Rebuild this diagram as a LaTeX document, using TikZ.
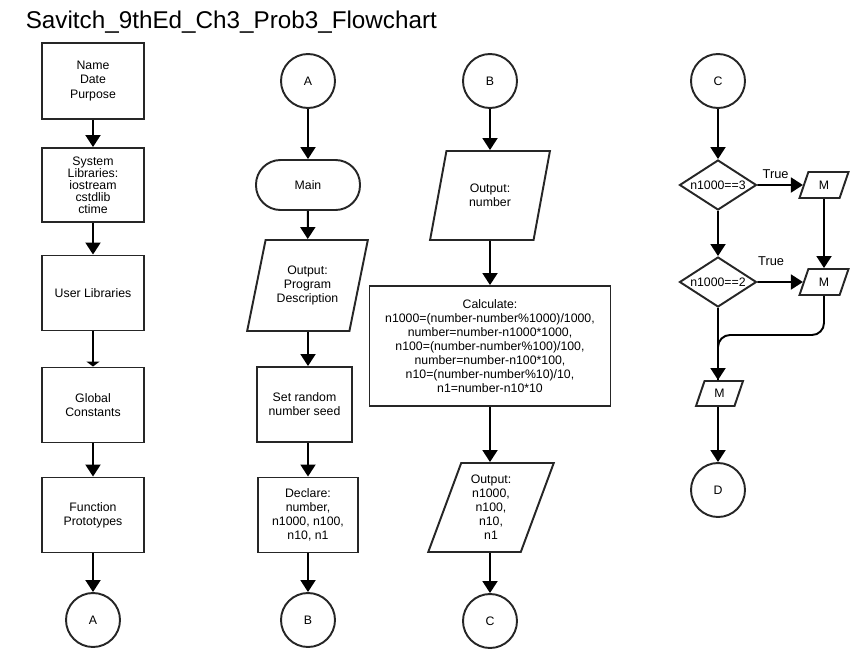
\documentclass[tikz,border=0pt]{standalone}
\usepackage{fontspec}
\setmainfont{Liberation Sans}
\usetikzlibrary{shapes.geometric,arrows.meta}

\begin{document}
\begin{tikzpicture}[x=0.02cm,y=-0.02cm,line width=1.1pt,>={Triangle[length=2.4mm,width=3mm]},
  font=\fontsize{7}{8}\selectfont,
  caja/.style={draw=black!85,minimum width=2.04cm,minimum height=1.5cm,align=center,inner sep=0pt},
  conector/.style={draw=black!85,circle,minimum size=1.08cm,inner sep=0pt},
  terminal/.style={draw=black!85,rounded corners=4.9mm,minimum width=2.08cm,minimum height=1cm},
  entrada/.style={draw=black!85,trapezium,trapezium left angle=71,trapezium right angle=109,
    trapezium stretches=true,align=center,inner sep=0pt},
  decision/.style={draw=black!85,diamond,aspect=1.54,inner sep=0pt,minimum width=1.54cm,minimum height=1cm}]
  \useasboundingbox (0,0) rectangle (862,663);
  \node[anchor=base west,font=\fontsize{13.8}{16}\selectfont] (titulo) at (19,28)
    {Savitch\_9thEd\_Ch3\_Prob3\_Flowchart};
  % columna 1
  \node[caja,minimum height=1.52cm,font=\fontsize{7}{8.4}\selectfont] (nombre) at (93,81) {Name\\Date\\Purpose};
  \node[caja,minimum height=1.48cm,font=\fontsize{7}{6.8}\selectfont] (sislib) at (93,185)
    {System\\Libraries:\\iostream\\cstdlib\\ctime};
  \node[caja] (usrlib) at (93,293) {User Libraries};
  \node[caja] (global) at (93,405) {Global\\Constants};
  \node[caja] (proto) at (93,515) {Function\\Prototypes};
  \node[conector] (A1) at (93,620) {A};
  \draw[->] (nombre) -- (sislib);
  \draw[->] (sislib) -- (usrlib);
  \draw[-{Triangle[length=1mm,width=2.6mm]}] (usrlib) -- (global);
  \draw[->] (global) -- (proto);
  \draw[->] (proto) -- (A1);
  % columna 2
  \node[conector] (A2) at (308,81) {A};
  \node[terminal] (main) at (308,185) {Main};
  \node[entrada,minimum width=2.42cm,minimum height=1.82cm] (descr) at (307.5,285.5)
    {Output:\\Program\\Description};
  \node[caja,minimum width=1.9cm] (semilla) at (304.5,404.5) {Set random\\number seed};
  \node[caja,minimum width=2cm] (declara) at (308,515) {Declare:\\number,\\n1000, n100,\\n10, n1};
  \node[conector] (B1) at (308,620) {B};
  \draw[->] (A2) -- (main);
  \draw[->] (main) -- (descr);
  \draw[->] (descr.south -| main) -- (semilla.north -| main);
  \draw[->] (semilla.south -| main) -- (declara);
  \draw[->] (declara) -- (B1);
  % columna 3
  \node[conector] (B2) at (490,81) {B};
  \node[entrada,minimum width=2.4cm,minimum height=1.78cm] (salnum) at (490,195.5) {Output:\\number};
  \node[caja,minimum width=4.82cm,minimum height=2.4cm] (calc) at (490,346)
    {Calculate:\\n1000=(number-number\%1000)/1000,\\number=number-n1000*1000,\\n100=(number-number\%100)/100,\\
     number=number-n100*100,\\n10=(number-number\%10)/10,\\n1=number-n10*10};
  \node[entrada,minimum width=2.52cm,minimum height=1.78cm] (salida) at (491,507.5)
    {Output:\\n1000,\\n100,\\n10,\\n1};
  \node[conector] (C1) at (490,621) {C};
  \draw[->] (B2) -- (salnum);
  \draw[->] (salnum) -- (calc);
  \draw[->] (calc.south) -- (salida.north -| calc.south);
  \draw[->] (salida.south -| C1) -- (C1);
  % columna 4
  \node[conector] (C2) at (718,81) {C};
  \node[decision] (d3) at (718,185) {n1000==3};
  \node[entrada,minimum width=0.98cm,minimum height=0.52cm] (M1) at (824,185) {M};
  \node[decision] (d2) at (718,282) {n1000==2};
  \node[entrada,minimum width=0.98cm,minimum height=0.52cm] (M2) at (824,282) {M};
  \node[entrada,minimum width=0.94cm,minimum height=0.5cm] (M3) at (719.5,393.5) {M};
  \node[conector] (D) at (718,490) {D};
  \coordinate (union) at (718,335);
  \draw[->] (C2) -- (d3);
  \draw[->] (d3) -- node[above,pos=0.4,font=\fontsize{7.3}{8}\selectfont] {True} (M1);
  \draw[->] (d3) -- (d2);
  \draw[->] (d2) -- node[above=2mm,pos=0.3,font=\fontsize{7.3}{8}\selectfont] {True} (M2);
  \draw[->] (M1) -- (M2);
  \draw[rounded corners=2.4mm] (M2.south -| M2.center) |- (union) -- (M3.north -| union);
  \draw[->] (d2.south) -- (M3.north -| d2.south);
  \draw[->] (M3.south -| D) -- (D);
\end{tikzpicture}
\end{document}
